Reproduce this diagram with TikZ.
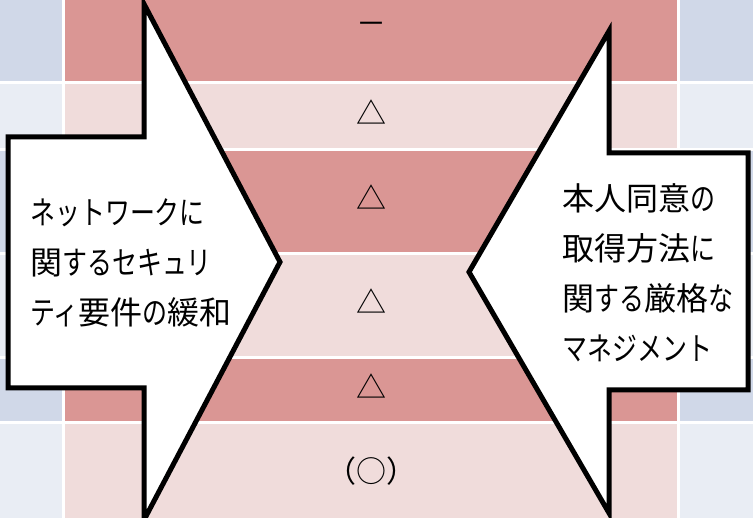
\documentclass[tikz,border=0pt]{standalone}
\usepackage{fontspec}
\usepackage{graphicx}
\newfontfamily\jp{Noto Sans CJK JP}
\newfontfamily\jpsym{Noto Sans CJK JP}
\newcommand{\kn}[1]{\scalebox{0.78}[1]{#1}}
\definecolor{reddark}{RGB}{218,150,148}
\definecolor{redlight}{RGB}{240,220,219}
\definecolor{bluedark}{RGB}{208,216,232}
\definecolor{bluelight}{RGB}{233,237,244}
\tikzset{
  bigarrow/.style={draw=black, fill=white, line width=5pt, line join=miter},
  sym/.style={inner sep=0pt, font=\jpsym\fontsize{30}{30}\selectfont},
  armtext/.style={inner sep=0pt, align=left, anchor=west, font=\jp\fontsize{32}{50}\selectfont}
}
\begin{document}
\begin{tikzpicture}[x=1pt,y=-1pt]
\fill[white] (0,0) rectangle (753,518);
\useasboundingbox (0,0) rectangle (753,518);
\foreach \ya/\yb/\shade in {0/81/dark,84/148/light,151/252/dark,255/356/light,359/421/dark,424/518/light}{
  \fill[blue\shade] (0,\ya) rectangle (62,\yb);
  \fill[red\shade] (65,\ya) rectangle (677,\yb);
  \fill[blue\shade] (680,\ya) rectangle (753,\yb);
}
\node[sym] (s1) at (371,28) {－};
\node[sym] (s2) at (371,112) {△};
\node[sym] (s3) at (371,197) {△};
\node[sym] (s4) at (371,301) {△};
\node[sym] (s5) at (371,386) {△};
\node[sym] (s6) at (371,471) {（○）};
\draw[bigarrow] (8,137) -- (144,137) -- (144,4) -- (280,262) -- (144,520) -- (144,388) -- (8,388) -- cycle;
\draw[bigarrow] (748,153) -- (609,153) -- (609,31) -- (469,272) -- (609,513) -- (609,390) -- (748,390) -- cycle;
\node[armtext] (lt) at (30,263) {\kn{ネットワークに}\\関\kn{するセキュリ}\\\kn{ティ}要件\kn{の}緩和};
\node[armtext] (rt) at (562,273) {本人同意\kn{の}\\取得方法\kn{に}\\関\kn{する}厳格\kn{な}\\\kn{マネジメント}};
\end{tikzpicture}
\end{document}
